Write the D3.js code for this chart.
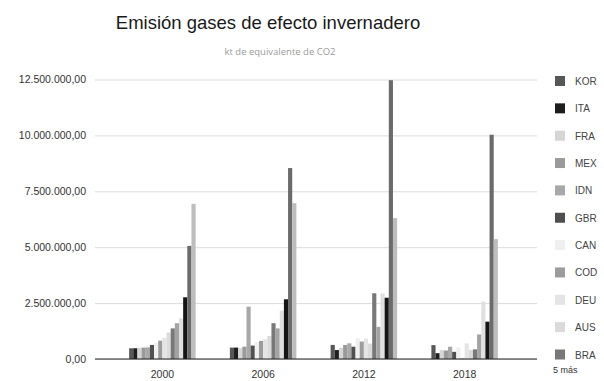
<!DOCTYPE html>
<html>
<head>
<meta charset="utf-8">
<script src="https://cdn.jsdelivr.net/npm/d3@7"></script>
<style>
  html, body { margin: 0; padding: 0; background: #fff; }
  svg { display: block; font-family: "Liberation Sans", Arial, sans-serif; }
</style>
</head>
<body>
<svg id="chart" width="604" height="381"></svg>
<script>
// Years on the category axis
const years = ["2000", "2006", "2012", "2018"];

// Countries, in series order (the last five are collapsed in the legend)
const countries = ["KOR", "ITA", "FRA", "MEX", "IDN", "GBR", "CAN", "COD", "DEU", "AUS", "BRA",
                   "JPN", "IND", "RUS", "CHN", "USA"];

// Greenhouse gas emissions, kt CO2 equivalent, one array per year in country order
const v2000 = [480000, 480000, 500000, 510000, 520000, 630000, 720000, 820000, 950000, 1180000, 1370000,
               1600000, 1820000, 2760000, 5060000, 6940000];
const v2006 = [510000, 510000, 480000, 550000, 2340000, 600000, 760000, 810000, 880000, 1030000, 1600000,
               1370000, 2160000, 2670000, 8540000, 6970000];
const v2012 = [630000, 400000, 500000, 630000, 700000, 550000, 930000, 780000, 910000, 690000, 2940000,
               1440000, 2930000, 2740000, 12470000, 6300000];
const v2018 = [620000, 260000, 400000, 380000, 550000, 320000, 520000, 20000, 700000, 400000, 430000,
               1100000, 2570000, 1670000, 10030000, 5360000];

// Y axis tick values
const yTicks = [0, 2500000, 5000000, 7500000, 10000000, 12500000];

// Legend shows the first eleven series, the rest are summarised
const legendShown = 11;
const moreLabel = "5 más";

// Series colours
const colors = ["#575757", "#1e1e1e", "#d6d6d6", "#9a9a9a", "#a8a8a8", "#505050", "#efefef", "#9c9c9c",
                "#e4e4e4", "#dadada", "#787878", "#a3a3a3", "#e0e0e0", "#151515", "#6b6b6b", "#bdbdbd"];

const byYear = { "2000": v2000, "2006": v2006, "2012": v2012, "2018": v2018 };

const svg = d3.select("#chart");
const plot = { left: 95, right: 537, top: 79.5, bottom: 359 };

const locale = d3.formatLocale({ decimal: ",", thousands: ".", grouping: [3], currency: ["", ""] });
const fmt = locale.format(",.2f");

const y = d3.scaleLinear().domain([0, 12500000]).range([plot.bottom, plot.top]);
const x0 = d3.scaleBand().domain(years).range([112, 515]).paddingInner(0.34).paddingOuter(0.17);
const x1 = d3.scaleBand().domain(countries).range([0, x0.bandwidth()]).padding(0);
const color = d3.scaleOrdinal().domain(countries).range(colors);

// Title and subtitle
svg.append("text")
  .attr("x", 268).attr("y", 29)
  .attr("text-anchor", "middle")
  .attr("font-size", 18.5)
  .attr("fill", "#1a1a1a")
  .text("Emisión gases de efecto invernadero");

svg.append("text")
  .attr("x", 280).attr("y", 55)
  .attr("text-anchor", "middle")
  .attr("font-family", "'Open Sans', sans-serif")
  .attr("font-size", 9.5)
  .attr("fill", "#9a9a9a")
  .text("kt de equivalente de CO2");

// Horizontal gridlines and value labels
const yAxis = d3.axisLeft(y).tickValues(yTicks).tickFormat(fmt)
  .tickSize(-(plot.right - plot.left)).tickPadding(9);

const gy = svg.append("g")
  .attr("transform", `translate(${plot.left},0)`)
  .call(yAxis);
gy.select(".domain").remove();
gy.selectAll(".tick line").attr("stroke", "#dcdcdc").attr("stroke-width", 1);
gy.selectAll(".tick text")
  .attr("font-family", "'Liberation Sans', Arial, sans-serif")
  .attr("font-size", 10.5)
  .attr("fill", "#333");

// Bars
const groups = svg.append("g").selectAll("g")
  .data(years)
  .join("g")
  .attr("transform", d => `translate(${x0(d)},0)`);

groups.selectAll("rect")
  .data(yr => countries.map((c, i) => ({ c, v: byYear[yr][i] })))
  .join("rect")
  .attr("x", d => x1(d.c))
  .attr("width", x1.bandwidth())
  .attr("y", d => y(d.v))
  .attr("height", d => y(0) - y(d.v))
  .attr("fill", d => color(d.c));

// Baseline
svg.append("line")
  .attr("x1", plot.left).attr("x2", plot.right)
  .attr("y1", y(0)).attr("y2", y(0))
  .attr("stroke", "#222").attr("stroke-width", 1);

// Category labels
const xAxis = d3.axisBottom(x0).tickSize(0).tickPadding(12);
const gx = svg.append("g")
  .attr("transform", `translate(0,${y(0)})`)
  .call(xAxis);
gx.select(".domain").remove();
gx.selectAll(".tick text")
  .attr("font-family", "'Liberation Sans', Arial, sans-serif")
  .attr("font-size", 10.5)
  .attr("fill", "#333");

// Legend
const legend = svg.append("g");
const items = legend.selectAll("g")
  .data(countries.slice(0, legendShown))
  .join("g")
  .attr("transform", (d, i) => `translate(555,${81 + i * 27.35})`);

items.append("rect")
  .attr("x", 0).attr("y", -5)
  .attr("width", 10).attr("height", 10)
  .attr("fill", d => color(d));

items.append("text")
  .attr("x", 20).attr("y", 4)
  .attr("font-size", 10)
  .attr("fill", "#444")
  .text(d => d);

legend.append("text")
  .attr("x", 553).attr("y", 373)
  .attr("font-size", 9)
  .attr("fill", "#333")
  .text(moreLabel);
</script>
</body>
</html>
